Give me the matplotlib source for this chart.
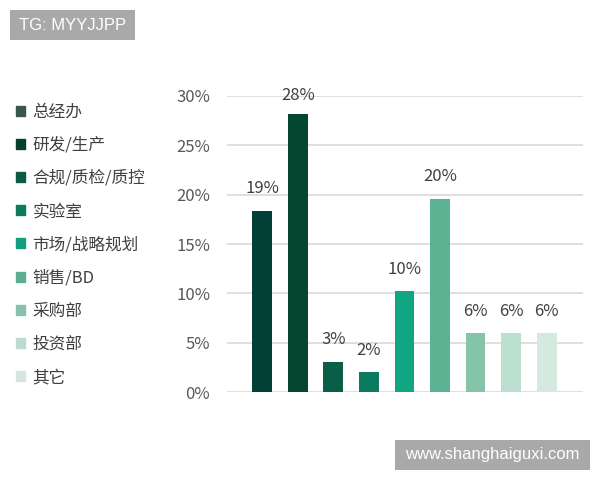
import matplotlib.pyplot as plt
from matplotlib.patches import Patch, Rectangle

plt.rcParams['font.family'] = ['Noto Sans CJK SC', 'DejaVu Sans']

departments = ["总经办", "研发/生产", "合规/质检/质控", "实验室", "市场/战略规划",
               "销售/BD", "采购部", "投资部", "其它"]
shares = [18.4, 28.2, 3.1, 2.0, 10.2, 19.6, 6.0, 6.0, 6.0]
share_labels = ["19%", "28%", "3%", "2%", "10%", "20%", "6%", "6%", "6%"]
bar_colors = ["#023f36", "#04462f", "#0a5e47", "#0b7a5e", "#12a582",
              "#5bb394", "#86c4aa", "#bcdfd0", "#d5e9e1"]
legend_colors = ["#3d5550", "#053f30", "#0c5a45", "#0d7a5c", "#14a07f",
                 "#5aae92", "#88c2aa", "#bcdccf", "#d5e6df"]
y_ticks = [0, 5, 10, 15, 20, 25, 30]

fig = plt.figure(figsize=(6, 4.8), dpi=100)
ax = fig.add_axes([0.378, 0.183, 0.594, 0.617])

x = range(len(shares))
ax.bar(x, shares, width=0.56, color=bar_colors, zorder=3)

for i, (v, lab) in enumerate(zip(shares, share_labels)):
    ax.text(i, min(v + 2.2, 30), lab, ha='center', va='center',
            fontsize=12, color='#404040')

ax.set_xlim(-1.0, 9.03)
ax.set_ylim(0, 30)
ax.set_yticks(y_ticks)
ax.set_yticklabels([f"{t}%" for t in y_ticks], fontsize=12, color='#595959')
ax.set_xticks([])
ax.tick_params(axis='y', length=0, pad=12)
ax.yaxis.grid(True, color='#d9d9d9', linewidth=1.2, zorder=0)
for s in ax.spines.values():
    s.set_visible(False)

handles = [Patch(color=c) for c in legend_colors]
fig.legend(handles, departments, loc='upper left', bbox_to_anchor=(0.015, 0.798),
           frameon=False, fontsize=12, labelcolor='#404040',
           handlelength=0.55, handleheight=0.55, handletextpad=0.45,
           labelspacing=0.97, borderaxespad=0)

# grey watermark boxes
fig.patches.append(Rectangle((10 / 600, 1 - 40 / 480), 125 / 600, 30 / 480,
                             transform=fig.transFigure, fc='#a9a9a9', ec='none'))
fig.text(72.5 / 600, 1 - 25 / 480, "TG: MYYJJPP", fontsize=12, color='white',
         ha='center', va='center', family='Liberation Sans')
fig.patches.append(Rectangle((395 / 600, 1 - 470 / 480), 195 / 600, 30 / 480,
                             transform=fig.transFigure, fc='#a9a9a9', ec='none'))
fig.text(492.5 / 600, 1 - 455 / 480, "www.shanghaiguxi.com", fontsize=12, color='white',
         ha='center', va='center', family='Liberation Sans')

fig.savefig("out.png", dpi=100)
